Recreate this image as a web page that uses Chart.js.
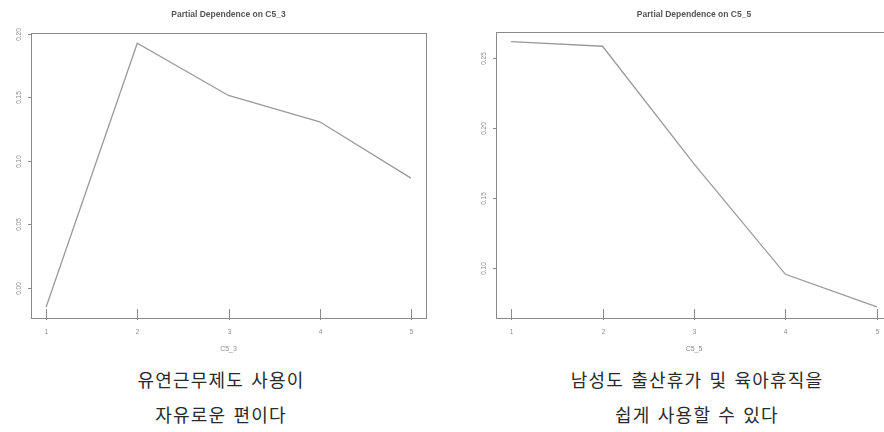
<!DOCTYPE html>
<html>
<head>
<meta charset="utf-8">
<script src="https://cdn.jsdelivr.net/npm/chart.js@4.4.1/dist/chart.umd.min.js"></script>
<style>
   html, body { margin: 0; padding: 0; background: #fff; width: 884px; height: 432px; overflow: hidden; }
   .wrap { position: absolute; top: 0; }
   .caption {
      position: absolute;
      text-align: center;
      font-family: "Noto Sans CJK KR", sans-serif;
      font-size: 18px;
      letter-spacing: 1.2px;
      word-spacing: 2px;
      color: #2a2a2a;
      line-height: 35px;
   }
</style>
</head>
<body>
<div class="wrap" style="left:0"><canvas id="pdC53" width="442" height="360"></canvas></div>
<div class="wrap" style="left:442px"><canvas id="pdC55" width="460" height="360"></canvas></div>
<div class="caption" style="left:21px; width:400px; top:362px">유연근무제도 사용이<br>자유로운 편이다</div>
<div class="caption" style="left:497px; width:400px; top:362px">남성도 출산휴가 및 육아휴직을<br>쉽게 사용할 수 있다</div>
<script>
// data
const xValues = [1, 2, 3, 4, 5];
const pdC53 = [-0.015, 0.1924, 0.1514, 0.1307, 0.0864];
const pdC55 = [0.2619, 0.2586, 0.1743, 0.0953, 0.072];
const yTicksC53 = [0.00, 0.05, 0.10, 0.15, 0.20];
const yTicksC55 = [0.10, 0.15, 0.20, 0.25];

const boxColor = '#8a8a8a';
const textColor = '#8c8c8c';

// draws the R style box, ticks, labels and titles from the chart's scales
const rAxes = {
   id: 'rAxes',
   afterDraw(chart, args, opts) {
      const ctx = chart.ctx;
      const area = chart.chartArea;
      const xs = chart.scales.x;
      const ys = chart.scales.y;
      ctx.save();
      ctx.strokeStyle = boxColor;
      ctx.lineWidth = 1;
      ctx.strokeRect(area.left + 0.5, area.top + 0.5, area.right - area.left, area.bottom - area.top);

      // x ticks
      ctx.fillStyle = textColor;
      ctx.font = '6.5px "Liberation Sans", Arial, sans-serif';
      ctx.textAlign = 'center';
      ctx.textBaseline = 'middle';
      xValues.forEach(v => {
         const px = Math.round(xs.getPixelForValue(v)) + 0.5;
         ctx.beginPath();
         ctx.moveTo(px, area.bottom - 9);
         ctx.lineTo(px, area.bottom + 2);
         ctx.stroke();
         ctx.fillText(String(v), px, area.bottom + 14);
      });

      // y ticks, rotated like R
      opts.yTicks.forEach(v => {
         const py = Math.round(ys.getPixelForValue(v)) + 0.5;
         ctx.beginPath();
         ctx.moveTo(area.left - 3, py);
         ctx.lineTo(area.left, py);
         ctx.stroke();
         ctx.save();
         ctx.translate(area.left - 12, py);
         ctx.rotate(-Math.PI / 2);
         ctx.fillText(v.toFixed(2), 0, 0);
         ctx.restore();
      });

      // axis title
      ctx.font = '7px "Liberation Sans", Arial, sans-serif';
      ctx.fillText(opts.xTitle, (area.left + area.right) / 2, area.bottom + 31);

      // main title
      ctx.fillStyle = '#555';
      ctx.font = 'bold 8.5px "Liberation Sans", Arial, sans-serif';
      ctx.fillText(opts.title, (area.left + area.right) / 2, 15);
      ctx.restore();
   }
};

function pdChart(canvasId, values, yMin, yMax, yTicks, name, padding) {
   return new Chart(document.getElementById(canvasId), {
      type: 'line',
      data: {
         datasets: [{
            data: xValues.map((x, i) => ({ x: x, y: values[i] })),
            borderColor: '#9a9a9a',
            borderWidth: 1.3,
            pointRadius: 0,
            tension: 0,
            fill: false
         }]
      },
      options: {
         responsive: false,
         animation: false,
         layout: { padding: padding },
         plugins: {
            legend: { display: false },
            tooltip: { enabled: false },
            rAxes: { yTicks: yTicks, xTitle: name, title: 'Partial Dependence on ' + name }
         },
         scales: {
            x: { type: 'linear', min: 0.835, max: 5.165, display: false },
            y: { type: 'linear', min: yMin, max: yMax, display: false }
         }
      },
      plugins: [rAxes]
   });
}

pdChart('pdC53', pdC53, -0.0235, 0.2005, yTicksC53, 'C5_3', { left: 31, top: 33, right: 16, bottom: 42 });
pdChart('pdC55', pdC55, 0.064, 0.2688, yTicksC55, 'C5_5', { left: 54, top: 32, right: 10, bottom: 42 });
</script>
</body>
</html>
